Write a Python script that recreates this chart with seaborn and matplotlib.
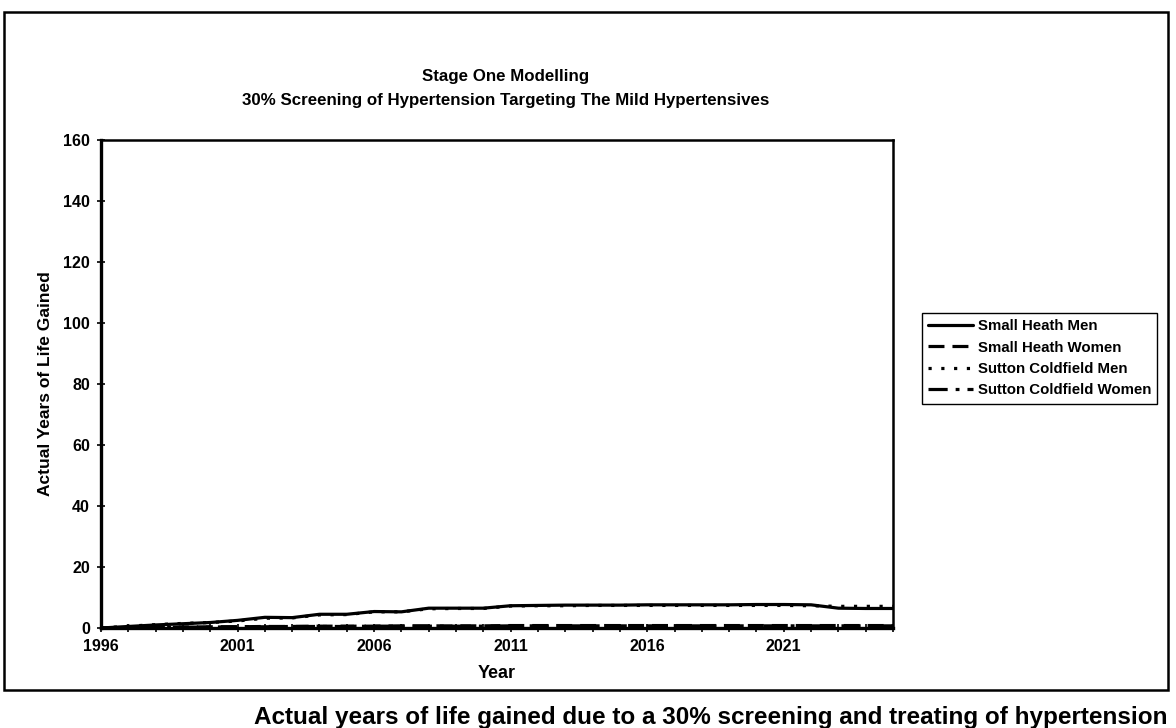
import numpy as np
import pandas as pd
import matplotlib
matplotlib.use("Agg")
import matplotlib.pyplot as plt
import seaborn as sns
from matplotlib.patches import Rectangle

# Data
years = list(range(1996, 2026))
small_heath_men = [0, 0.5, 1.0, 1.4, 1.8, 2.5, 3.5, 3.4, 4.5, 4.5, 5.4, 5.3, 6.5, 6.5, 6.5,
                   7.3, 7.4, 7.5, 7.5, 7.5, 7.6, 7.6, 7.6, 7.6, 7.7, 7.7, 7.6, 6.5, 6.4, 6.4]
small_heath_women = [0, 0.1, 0.2, 0.3, 0.4, 0.4, 0.5, 0.5, 0.6, 0.6, 0.6, 0.7, 0.7, 0.7, 0.7,
                     0.8, 0.8, 0.8, 0.8, 0.8, 0.8, 0.8, 0.8, 0.8, 0.8, 0.8, 0.8, 0.8, 0.8, 0.8]
sutton_men = [0, 0.6, 1.1, 1.5, 1.8, 2.3, 3.2, 3.3, 4.3, 4.4, 5.3, 5.3, 6.3, 6.4, 6.4,
              7.2, 7.3, 7.3, 7.4, 7.4, 7.4, 7.4, 7.4, 7.4, 7.4, 7.4, 7.3, 7.1, 7.1, 7.1]
sutton_women = [0, 0.1, 0.2, 0.3, 0.3, 0.4, 0.4, 0.5, 0.5, 0.5, 0.6, 0.6, 0.6, 0.6, 0.6,
                0.7, 0.7, 0.7, 0.7, 0.7, 0.7, 0.7, 0.7, 0.7, 0.7, 0.7, 0.7, 0.7, 0.7, 0.7]

series_names = ["Small Heath Men", "Small Heath Women", "Sutton Coldfield Men", "Sutton Coldfield Women"]
series_values = [small_heath_men, small_heath_women, sutton_men, sutton_women]
series_dashes = [None, (5, 2.5), (1, 3), (6, 2.5, 1.2, 2.5)]

y_ticks = list(range(0, 161, 20))
x_labelled = [1996, 2001, 2006, 2011, 2016, 2021]

sns.set_style("white")
plt.rcParams['font.family'] = ['Liberation Sans', 'DejaVu Sans']
plt.rcParams['text.color'] = 'black'
plt.rcParams['axes.labelcolor'] = 'black'
plt.rcParams['xtick.color'] = 'black'
plt.rcParams['ytick.color'] = 'black'

fig = plt.figure(figsize=(11.76, 7.28), dpi=100)
ax = fig.add_axes([101 / 1176, 1 - 628 / 728, 792 / 1176, 488 / 728])

for name, vals, dash in zip(series_names, series_values, series_dashes):
    df = pd.DataFrame({"Year": years, "Value": vals})
    sns.lineplot(data=df, x="Year", y="Value", ax=ax, color="black",
                 linewidth=2.3, label=name)
    if dash is not None:
        ax.lines[-1].set_dashes(dash)

ax.set_xlim(1996, 2025)
ax.set_ylim(0, 160)
ax.set_yticks(y_ticks)
ax.set_yticklabels([str(v) for v in y_ticks], fontsize=11.5, fontweight="bold")
ax.set_xticks(years)
ax.set_xticklabels([str(y) if y in x_labelled else "" for y in years],
                   fontsize=11.5, fontweight="bold")
ax.tick_params(axis="both", direction="inout", length=6, width=1.2, color="black",
               bottom=True, left=True)
ax.tick_params(axis="x", pad=5)
ax.tick_params(axis="y", pad=5)
for side in ["left", "bottom"]:
    ax.spines[side].set_linewidth(2.4)
for side in ["top", "right"]:
    ax.spines[side].set_linewidth(1.8)
for s in ax.spines.values():
    s.set_color("black")
ax.set_xlabel("Year", fontsize=13, fontweight="bold", labelpad=8)
ax.set_ylabel("Actual Years of Life Gained", fontsize=12.5, fontweight="bold", labelpad=7)

fig.text(0.43, 1 - 77 / 728, "Stage One Modelling", ha="center", va="center",
         fontsize=12.2, fontweight="bold")
fig.text(0.43, 1 - 100 / 728, "30% Screening of Hypertension Targeting The Mild Hypertensives",
         ha="center", va="center", fontsize=12.2, fontweight="bold")

leg = ax.legend(loc="upper left", bbox_to_anchor=(922 / 1176, 1 - 313 / 728),
                bbox_transform=fig.transFigure, fontsize=10.8, frameon=True, fancybox=False,
                framealpha=1, edgecolor="black", handlelength=3.0, handletextpad=0.3,
                borderpad=0.4, labelspacing=0.5, borderaxespad=0)
leg.get_frame().set_linewidth(1.0)
for t in leg.get_texts():
    t.set_fontweight("bold")

# outer chart border and the caption below it
fig.patches.append(Rectangle((4 / 1176, 1 - 690 / 728), 1164 / 1176, 678 / 728,
                             transform=fig.transFigure, fill=False, edgecolor="black",
                             linewidth=1.8))
fig.text(1168 / 1176, 1 - 724 / 728,
         "Actual years of life gained due to a 30% screening and treating of hypertension",
         ha="right", va="baseline", fontsize=17.5, fontweight="bold")

fig.savefig("out.png", dpi=100)
